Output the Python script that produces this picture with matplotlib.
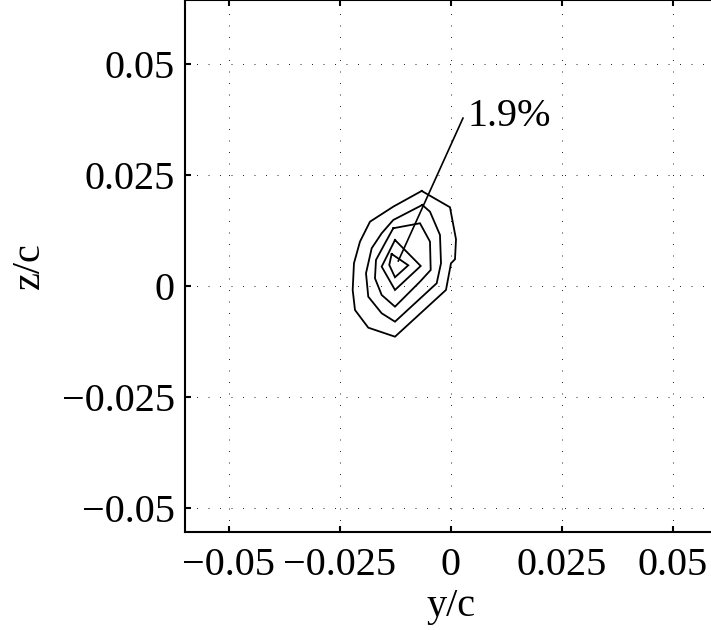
import matplotlib
matplotlib.use("Agg")
import matplotlib.pyplot as plt

# Contour loops of the wake-deficit field (y/c, z/c), outermost to innermost
c1_y = [-0.00660, -0.00023, 0.00113, 0.00090, 0.00000, -0.00113, -0.01261,
        -0.01863, -0.02162, -0.02214, -0.02185, -0.02050, -0.01824, -0.01300]
c1_z = [0.02140, 0.01773, 0.01052, 0.00601, 0.00511, -0.00090, -0.01142,
        -0.00939, -0.00541, -0.00090, 0.00511, 0.00998, 0.01448, 0.01786]

c2_y = [-0.00646, -0.00473, -0.00248, -0.00225, -0.00322, -0.01261, -0.01561,
        -0.01863, -0.01914, -0.01786, -0.01561, -0.01300]
c2_z = [0.01824, 0.01673, 0.01149, 0.00511, 0.00061, -0.00804, -0.00615,
        -0.00241, 0.00286, 0.00849, 0.01187, 0.01486]

c3_y = [-0.01300, -0.00698, -0.00473, -0.00457, -0.00698, -0.01261, -0.01561,
        -0.01712, -0.01689, -0.01486]
c3_z = [0.01300, 0.01412, 0.00998, 0.00360, 0.00097, -0.00466, -0.00203,
        0.00173, 0.00586, 0.00962]

c4_y = [-0.01261, -0.00682, -0.01261, -0.01561]
c4_z = [0.01036, 0.00450, -0.00090, 0.00435]

c5_y = [-0.01336, -0.00962, -0.01261, -0.01390]
c5_z = [0.00721, 0.00466, 0.00196, 0.00473]

contours = [(c1_y, c1_z), (c2_y, c2_z), (c3_y, c3_z), (c4_y, c4_z), (c5_y, c5_z)]

# Peak label and its leader
peak_label = "1.9%"
peak_point = (-0.01187, 0.00563)
label_point = (0.00270, 0.03780)

ticks = [-0.05, -0.025, 0, 0.025, 0.05]
tick_labels = ["\u22120.05", "\u22120.025", "0", "0.025", "0.05"]

plt.rcParams["font.family"] = ["Liberation Serif", "DejaVu Serif"]

fig = plt.figure(figsize=(7.11, 6.30), dpi=100)
ax = fig.add_axes([0.2596, 0.1556, 0.7494, 0.8444])

for ys, zs in contours:
    ax.plot(list(ys) + [ys[0]], list(zs) + [zs[0]], color="black", lw=1.3,
            solid_joinstyle="miter")

ax.plot([label_point[0], peak_point[0]], [label_point[1], peak_point[1]],
        color="black", lw=1.2)
ax.text(label_point[0] + 0.0011, label_point[1] + 0.0003, peak_label,
        fontsize=29, ha="left", va="center")

ax.set_xlim(-0.06, 0.06)
ax.set_ylim(-0.0554, 0.0644)
ax.set_xticks(ticks)
ax.set_xticklabels(tick_labels)
ax.set_yticks(ticks)
ax.set_yticklabels(tick_labels)

ax.grid(True, color="black", lw=0.6, linestyle=(0, (1.2, 12.6)))
ax.tick_params(direction="in", length=4, width=1.5, top=True, right=True,
               labelsize=29)
ax.tick_params(axis="x", pad=11)
ax.tick_params(axis="y", pad=7)
for s in ax.spines.values():
    s.set_linewidth(1.5)

ax.set_xlabel("y/c", fontsize=29, labelpad=3)
ax.set_ylabel("z/c", fontsize=29, labelpad=10)

fig.savefig("out.png", dpi=100)
